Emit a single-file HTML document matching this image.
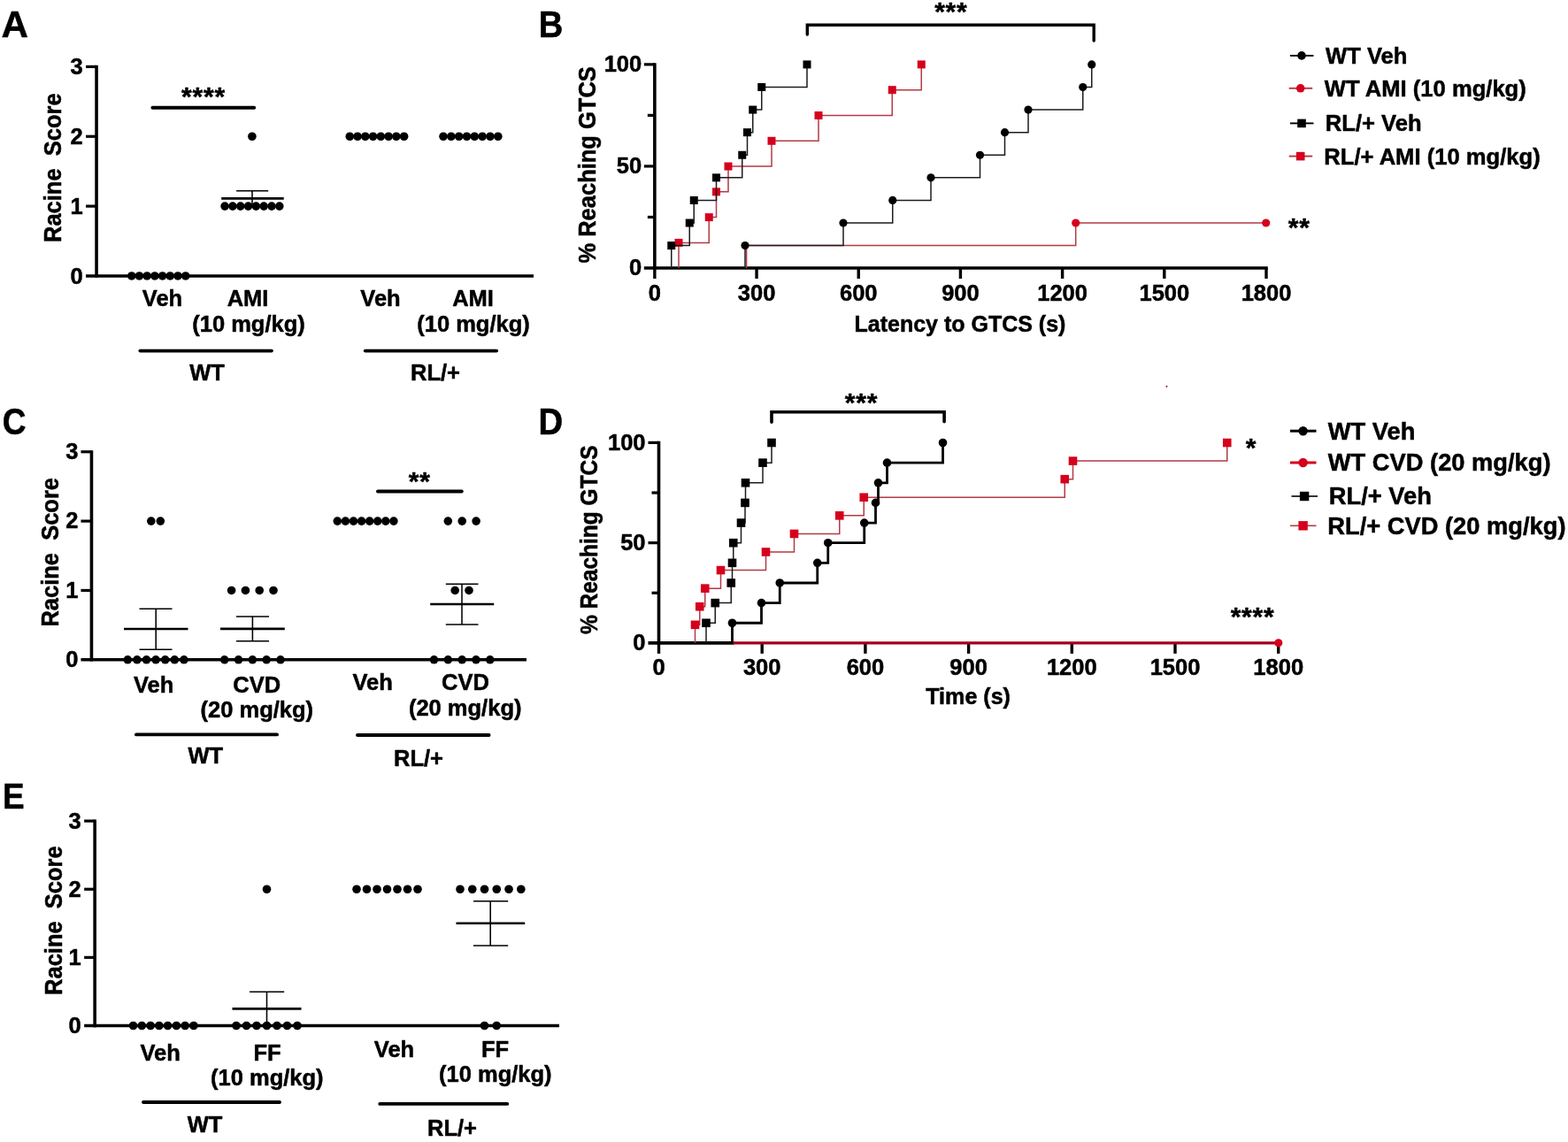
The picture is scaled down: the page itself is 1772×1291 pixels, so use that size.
<!DOCTYPE html>
<html lang="en">
<head>
<meta charset="utf-8">
<title>Figure: Racine score and latency to GTCS</title>
<style>
html,body{margin:0;padding:0;background:#fff;}
body{width:1772px;height:1291px;overflow:hidden;}
svg{display:block;}
svg text{white-space:pre;font-family:"Liberation Sans",Arial,Helvetica,sans-serif;font-weight:700;fill:#000;stroke:#000;stroke-width:0.5px;stroke-linejoin:round;}
</style>
</head>
<body>
<svg width="1772" height="1291" viewBox="0 0 1772 1291">
<rect x="0" y="0" width="1772" height="1291" fill="#fff"/>
<text transform="translate(1.45 41.8) scale(1.03 1.02)" font-size="41.0" text-anchor="start">A</text>
<text transform="translate(608.75 41.8) scale(0.93 1.02)" font-size="41.0" text-anchor="start">B</text>
<text transform="translate(2.86 490.6) scale(0.905 1.05)" font-size="41.0" text-anchor="start">C</text>
<text transform="translate(608.44 490.6) scale(0.935 1.02)" font-size="41.0" text-anchor="start">D</text>
<text transform="translate(2.93 914.4) scale(0.9 1)" font-size="41.0" text-anchor="start">E</text>
<line x1="109.05" y1="73.80000000000001" x2="109.05" y2="313.75" stroke="#000" stroke-width="3.6" stroke-linecap="butt"/>
<line x1="97.05" y1="311.95" x2="603" y2="311.95" stroke="#000" stroke-width="3.6" stroke-linecap="butt"/>
<text transform="translate(93.8 320.95)" font-size="25.5" text-anchor="end" xml:space="preserve">0</text>
<line x1="97.05" y1="233.1" x2="109.05" y2="233.1" stroke="#000" stroke-width="3.2" stroke-linecap="butt"/>
<text transform="translate(93.8 242.1)" font-size="25.5" text-anchor="end" xml:space="preserve">1</text>
<line x1="97.05" y1="154.25" x2="109.05" y2="154.25" stroke="#000" stroke-width="3.2" stroke-linecap="butt"/>
<text transform="translate(93.8 163.25)" font-size="25.5" text-anchor="end" xml:space="preserve">2</text>
<line x1="97.05" y1="75.4" x2="109.05" y2="75.4" stroke="#000" stroke-width="3.2" stroke-linecap="butt"/>
<text transform="translate(93.8 84.4)" font-size="25.5" text-anchor="end" xml:space="preserve">3</text>
<text transform="translate(68.5 189.675) rotate(-90) scale(1 1.07)" font-size="25.5" text-anchor="middle" xml:space="preserve">Racine  Score</text>
<circle cx="148.75" cy="311.95" r="4.8" fill="#000"/>
<circle cx="157.46" cy="311.95" r="4.8" fill="#000"/>
<circle cx="166.16" cy="311.95" r="4.8" fill="#000"/>
<circle cx="174.87" cy="311.95" r="4.8" fill="#000"/>
<circle cx="183.58" cy="311.95" r="4.8" fill="#000"/>
<circle cx="192.29" cy="311.95" r="4.8" fill="#000"/>
<circle cx="200.99" cy="311.95" r="4.8" fill="#000"/>
<circle cx="209.70" cy="311.95" r="4.8" fill="#000"/>
<circle cx="254.10" cy="233.10" r="4.8" fill="#000"/>
<circle cx="262.91" cy="233.10" r="4.8" fill="#000"/>
<circle cx="271.73" cy="233.10" r="4.8" fill="#000"/>
<circle cx="280.54" cy="233.10" r="4.8" fill="#000"/>
<circle cx="289.36" cy="233.10" r="4.8" fill="#000"/>
<circle cx="298.17" cy="233.10" r="4.8" fill="#000"/>
<circle cx="306.99" cy="233.10" r="4.8" fill="#000"/>
<circle cx="315.80" cy="233.10" r="4.8" fill="#000"/>
<circle cx="284.90" cy="154.25" r="4.8" fill="#000"/>
<line x1="250.2" y1="224.35" x2="320.7" y2="224.35" stroke="#000" stroke-width="2.6" stroke-linecap="butt"/>
<line x1="285" y1="215.65" x2="285" y2="233.05" stroke="#000" stroke-width="1.55" stroke-linecap="butt"/>
<line x1="267.1" y1="215.65" x2="303.2" y2="215.65" stroke="#000" stroke-width="1.55" stroke-linecap="butt"/>
<circle cx="395.30" cy="154.25" r="4.8" fill="#000"/>
<circle cx="404.06" cy="154.25" r="4.8" fill="#000"/>
<circle cx="412.81" cy="154.25" r="4.8" fill="#000"/>
<circle cx="421.57" cy="154.25" r="4.8" fill="#000"/>
<circle cx="430.33" cy="154.25" r="4.8" fill="#000"/>
<circle cx="439.09" cy="154.25" r="4.8" fill="#000"/>
<circle cx="447.84" cy="154.25" r="4.8" fill="#000"/>
<circle cx="456.60" cy="154.25" r="4.8" fill="#000"/>
<circle cx="501.00" cy="154.25" r="4.8" fill="#000"/>
<circle cx="509.83" cy="154.25" r="4.8" fill="#000"/>
<circle cx="518.66" cy="154.25" r="4.8" fill="#000"/>
<circle cx="527.49" cy="154.25" r="4.8" fill="#000"/>
<circle cx="536.31" cy="154.25" r="4.8" fill="#000"/>
<circle cx="545.14" cy="154.25" r="4.8" fill="#000"/>
<circle cx="553.97" cy="154.25" r="4.8" fill="#000"/>
<circle cx="562.80" cy="154.25" r="4.8" fill="#000"/>
<line x1="172.4" y1="121.8" x2="287.2" y2="121.8" stroke="#000" stroke-width="3.9" stroke-linecap="round"/>
<text transform="translate(229.94 118.95)" font-size="30.0" text-anchor="middle" xml:space="preserve" letter-spacing="0.78" stroke="none">****</text>
<text transform="translate(183.5 346.3)" font-size="25.5" text-anchor="middle" xml:space="preserve">Veh</text>
<text transform="translate(280 346.3)" font-size="25.5" text-anchor="middle" xml:space="preserve">AMI</text>
<text transform="translate(281 375.4)" font-size="25.5" text-anchor="middle" xml:space="preserve">(10 mg/kg)</text>
<text transform="translate(430 346.3)" font-size="25.5" text-anchor="middle" xml:space="preserve">Veh</text>
<text transform="translate(534.5 346.3)" font-size="25.5" text-anchor="middle" xml:space="preserve">AMI</text>
<text transform="translate(535 375.4)" font-size="25.5" text-anchor="middle" xml:space="preserve">(10 mg/kg)</text>
<line x1="158.4" y1="396.6" x2="306.9" y2="396.6" stroke="#000" stroke-width="3.9" stroke-linecap="round"/>
<line x1="412.8" y1="396.6" x2="561.1" y2="396.6" stroke="#000" stroke-width="3.9" stroke-linecap="round"/>
<text transform="translate(234 430.1)" font-size="25.5" text-anchor="middle" xml:space="preserve">WT</text>
<text transform="translate(492 430.3)" font-size="25.5" text-anchor="middle" xml:space="preserve">RL/+</text>
<line x1="103.45" y1="509.15" x2="103.45" y2="747.5999999999999" stroke="#000" stroke-width="3.6" stroke-linecap="butt"/>
<line x1="91.45" y1="745.8" x2="595" y2="745.8" stroke="#000" stroke-width="3.6" stroke-linecap="butt"/>
<text transform="translate(88.4 753.9)" font-size="25.5" text-anchor="end" xml:space="preserve">0</text>
<line x1="91.45" y1="667.4499999999999" x2="103.45" y2="667.4499999999999" stroke="#000" stroke-width="3.2" stroke-linecap="butt"/>
<text transform="translate(88.4 675.55)" font-size="25.5" text-anchor="end" xml:space="preserve">1</text>
<line x1="91.45" y1="589.1" x2="103.45" y2="589.1" stroke="#000" stroke-width="3.2" stroke-linecap="butt"/>
<text transform="translate(88.4 597.2)" font-size="25.5" text-anchor="end" xml:space="preserve">2</text>
<line x1="91.45" y1="510.75" x2="103.45" y2="510.75" stroke="#000" stroke-width="3.2" stroke-linecap="butt"/>
<text transform="translate(88.4 518.85)" font-size="25.5" text-anchor="end" xml:space="preserve">3</text>
<text transform="translate(66.2 624.275) rotate(-90) scale(1 1.07)" font-size="25.5" text-anchor="middle" xml:space="preserve">Racine  Score</text>
<circle cx="144.30" cy="745.80" r="4.8" fill="#000"/>
<circle cx="154.90" cy="745.80" r="4.8" fill="#000"/>
<circle cx="165.50" cy="745.80" r="4.8" fill="#000"/>
<circle cx="176.10" cy="745.80" r="4.8" fill="#000"/>
<circle cx="186.70" cy="745.80" r="4.8" fill="#000"/>
<circle cx="197.30" cy="745.80" r="4.8" fill="#000"/>
<circle cx="207.90" cy="745.80" r="4.8" fill="#000"/>
<circle cx="170.80" cy="589.10" r="4.8" fill="#000"/>
<circle cx="181.30" cy="589.10" r="4.8" fill="#000"/>
<line x1="140" y1="711.0" x2="212.5" y2="711.0" stroke="#000" stroke-width="2.6" stroke-linecap="butt"/>
<line x1="176.2" y1="688.2" x2="176.2" y2="734.2" stroke="#000" stroke-width="1.55" stroke-linecap="butt"/>
<line x1="157.5" y1="688.2" x2="194.5" y2="688.2" stroke="#000" stroke-width="1.55" stroke-linecap="butt"/>
<line x1="157.5" y1="734.2" x2="194.5" y2="734.2" stroke="#000" stroke-width="1.55" stroke-linecap="butt"/>
<circle cx="253.70" cy="745.80" r="4.8" fill="#000"/>
<circle cx="269.52" cy="745.80" r="4.8" fill="#000"/>
<circle cx="285.35" cy="745.80" r="4.8" fill="#000"/>
<circle cx="301.18" cy="745.80" r="4.8" fill="#000"/>
<circle cx="317.00" cy="745.80" r="4.8" fill="#000"/>
<circle cx="261.60" cy="667.45" r="4.8" fill="#000"/>
<circle cx="277.40" cy="667.45" r="4.8" fill="#000"/>
<circle cx="293.20" cy="667.45" r="4.8" fill="#000"/>
<circle cx="309.00" cy="667.45" r="4.8" fill="#000"/>
<line x1="249" y1="710.9" x2="321.8" y2="710.9" stroke="#000" stroke-width="2.6" stroke-linecap="butt"/>
<line x1="285.4" y1="696.9" x2="285.4" y2="724.8" stroke="#000" stroke-width="1.55" stroke-linecap="butt"/>
<line x1="267" y1="696.9" x2="304" y2="696.9" stroke="#000" stroke-width="1.55" stroke-linecap="butt"/>
<line x1="267" y1="724.8" x2="304" y2="724.8" stroke="#000" stroke-width="1.55" stroke-linecap="butt"/>
<circle cx="381.30" cy="589.10" r="4.8" fill="#000"/>
<circle cx="390.39" cy="589.10" r="4.8" fill="#000"/>
<circle cx="399.47" cy="589.10" r="4.8" fill="#000"/>
<circle cx="408.56" cy="589.10" r="4.8" fill="#000"/>
<circle cx="417.64" cy="589.10" r="4.8" fill="#000"/>
<circle cx="426.73" cy="589.10" r="4.8" fill="#000"/>
<circle cx="435.81" cy="589.10" r="4.8" fill="#000"/>
<circle cx="444.90" cy="589.10" r="4.8" fill="#000"/>
<circle cx="490.50" cy="745.80" r="4.8" fill="#000"/>
<circle cx="506.32" cy="745.80" r="4.8" fill="#000"/>
<circle cx="522.15" cy="745.80" r="4.8" fill="#000"/>
<circle cx="537.97" cy="745.80" r="4.8" fill="#000"/>
<circle cx="553.80" cy="745.80" r="4.8" fill="#000"/>
<circle cx="514.20" cy="667.45" r="4.8" fill="#000"/>
<circle cx="530.00" cy="667.45" r="4.8" fill="#000"/>
<circle cx="506.30" cy="589.10" r="4.8" fill="#000"/>
<circle cx="522.20" cy="589.10" r="4.8" fill="#000"/>
<circle cx="538.10" cy="589.10" r="4.8" fill="#000"/>
<line x1="486.2" y1="683.0" x2="558.2" y2="683.0" stroke="#000" stroke-width="2.6" stroke-linecap="butt"/>
<line x1="522" y1="660.2" x2="522" y2="706.0" stroke="#000" stroke-width="1.55" stroke-linecap="butt"/>
<line x1="503.8" y1="660.2" x2="540.5" y2="660.2" stroke="#000" stroke-width="1.55" stroke-linecap="butt"/>
<line x1="503.8" y1="706.0" x2="540.5" y2="706.0" stroke="#000" stroke-width="1.55" stroke-linecap="butt"/>
<line x1="427" y1="555.5" x2="521.8" y2="555.5" stroke="#000" stroke-width="3.9" stroke-linecap="round"/>
<text transform="translate(474.14 554.4)" font-size="30.0" text-anchor="middle" xml:space="preserve" letter-spacing="0.78" stroke="none">**</text>
<text transform="translate(173.7 782.5)" font-size="25.5" text-anchor="middle" xml:space="preserve">Veh</text>
<text transform="translate(290.2 782.5)" font-size="25.5" text-anchor="middle" xml:space="preserve">CVD</text>
<text transform="translate(290.3 810.65)" font-size="25.5" text-anchor="middle" xml:space="preserve">(20 mg/kg)</text>
<text transform="translate(421.2 779.65)" font-size="25.5" text-anchor="middle" xml:space="preserve">Veh</text>
<text transform="translate(526 779.65)" font-size="25.5" text-anchor="middle" xml:space="preserve">CVD</text>
<text transform="translate(525.7 808.85)" font-size="25.5" text-anchor="middle" xml:space="preserve">(20 mg/kg)</text>
<line x1="154" y1="830.4" x2="313" y2="830.4" stroke="#000" stroke-width="3.9" stroke-linecap="round"/>
<line x1="404" y1="831" x2="552.6" y2="831" stroke="#000" stroke-width="3.9" stroke-linecap="round"/>
<text transform="translate(232.3 862.9)" font-size="25.5" text-anchor="middle" xml:space="preserve">WT</text>
<text transform="translate(473 865.9)" font-size="25.5" text-anchor="middle" xml:space="preserve">RL/+</text>
<line x1="107.15" y1="926.5" x2="107.15" y2="1161.3" stroke="#000" stroke-width="3.6" stroke-linecap="butt"/>
<line x1="95.15" y1="1159.5" x2="632" y2="1159.5" stroke="#000" stroke-width="3.6" stroke-linecap="butt"/>
<text transform="translate(91.8 1168.2)" font-size="25.5" text-anchor="end" xml:space="preserve">0</text>
<line x1="95.15" y1="1082.3666666666668" x2="107.15" y2="1082.3666666666668" stroke="#000" stroke-width="3.2" stroke-linecap="butt"/>
<text transform="translate(91.8 1091.0666666666668)" font-size="25.5" text-anchor="end" xml:space="preserve">1</text>
<line x1="95.15" y1="1005.2333333333333" x2="107.15" y2="1005.2333333333333" stroke="#000" stroke-width="3.2" stroke-linecap="butt"/>
<text transform="translate(91.8 1013.9333333333334)" font-size="25.5" text-anchor="end" xml:space="preserve">2</text>
<line x1="95.15" y1="928.1" x2="107.15" y2="928.1" stroke="#000" stroke-width="3.2" stroke-linecap="butt"/>
<text transform="translate(91.8 936.8000000000001)" font-size="25.5" text-anchor="end" xml:space="preserve">3</text>
<text transform="translate(70.3 1040.6) rotate(-90) scale(1 1.07)" font-size="25.5" text-anchor="middle" xml:space="preserve">Racine  Score</text>
<circle cx="150.55" cy="1159.50" r="4.8" fill="#000"/>
<circle cx="160.31" cy="1159.50" r="4.8" fill="#000"/>
<circle cx="170.08" cy="1159.50" r="4.8" fill="#000"/>
<circle cx="179.84" cy="1159.50" r="4.8" fill="#000"/>
<circle cx="189.61" cy="1159.50" r="4.8" fill="#000"/>
<circle cx="199.37" cy="1159.50" r="4.8" fill="#000"/>
<circle cx="209.14" cy="1159.50" r="4.8" fill="#000"/>
<circle cx="218.90" cy="1159.50" r="4.8" fill="#000"/>
<circle cx="267.00" cy="1159.50" r="4.8" fill="#000"/>
<circle cx="278.50" cy="1159.50" r="4.8" fill="#000"/>
<circle cx="290.00" cy="1159.50" r="4.8" fill="#000"/>
<circle cx="301.50" cy="1159.50" r="4.8" fill="#000"/>
<circle cx="313.00" cy="1159.50" r="4.8" fill="#000"/>
<circle cx="324.50" cy="1159.50" r="4.8" fill="#000"/>
<circle cx="336.00" cy="1159.50" r="4.8" fill="#000"/>
<circle cx="301.50" cy="1005.24" r="4.8" fill="#000"/>
<line x1="262.5" y1="1140.4" x2="340.5" y2="1140.4" stroke="#000" stroke-width="2.6" stroke-linecap="butt"/>
<line x1="301.5" y1="1121.2" x2="301.5" y2="1159" stroke="#000" stroke-width="1.55" stroke-linecap="butt"/>
<line x1="282" y1="1121.2" x2="321.2" y2="1121.2" stroke="#000" stroke-width="1.55" stroke-linecap="butt"/>
<circle cx="403.00" cy="1005.24" r="4.8" fill="#000"/>
<circle cx="414.50" cy="1005.24" r="4.8" fill="#000"/>
<circle cx="426.00" cy="1005.24" r="4.8" fill="#000"/>
<circle cx="437.50" cy="1005.24" r="4.8" fill="#000"/>
<circle cx="449.00" cy="1005.24" r="4.8" fill="#000"/>
<circle cx="460.50" cy="1005.24" r="4.8" fill="#000"/>
<circle cx="472.00" cy="1005.24" r="4.8" fill="#000"/>
<circle cx="520.00" cy="1005.24" r="4.8" fill="#000"/>
<circle cx="533.76" cy="1005.24" r="4.8" fill="#000"/>
<circle cx="547.52" cy="1005.24" r="4.8" fill="#000"/>
<circle cx="561.28" cy="1005.24" r="4.8" fill="#000"/>
<circle cx="575.04" cy="1005.24" r="4.8" fill="#000"/>
<circle cx="588.80" cy="1005.24" r="4.8" fill="#000"/>
<circle cx="547.50" cy="1159.50" r="4.8" fill="#000"/>
<circle cx="561.20" cy="1159.50" r="4.8" fill="#000"/>
<line x1="515.5" y1="1043.8" x2="593.2" y2="1043.8" stroke="#000" stroke-width="2.6" stroke-linecap="butt"/>
<line x1="554.2" y1="1018.8" x2="554.2" y2="1069" stroke="#000" stroke-width="1.55" stroke-linecap="butt"/>
<line x1="535" y1="1018.8" x2="574.2" y2="1018.8" stroke="#000" stroke-width="1.55" stroke-linecap="butt"/>
<line x1="535" y1="1069" x2="574.2" y2="1069" stroke="#000" stroke-width="1.55" stroke-linecap="butt"/>
<text transform="translate(181.2 1199.3)" font-size="25.5" text-anchor="middle" xml:space="preserve">Veh</text>
<text transform="translate(302 1199.3)" font-size="25.5" text-anchor="middle" xml:space="preserve">FF</text>
<text transform="translate(301.8 1227.3)" font-size="25.5" text-anchor="middle" xml:space="preserve">(10 mg/kg)</text>
<text transform="translate(445.5 1194.8)" font-size="25.5" text-anchor="middle" xml:space="preserve">Veh</text>
<text transform="translate(559.5 1194.6)" font-size="25.5" text-anchor="middle" xml:space="preserve">FF</text>
<text transform="translate(559.8 1223.3)" font-size="25.5" text-anchor="middle" xml:space="preserve">(10 mg/kg)</text>
<line x1="162" y1="1246" x2="316" y2="1246" stroke="#000" stroke-width="3.9" stroke-linecap="round"/>
<line x1="429.3" y1="1247.9" x2="573.2" y2="1247.9" stroke="#000" stroke-width="3.9" stroke-linecap="round"/>
<text transform="translate(231.6 1279.5)" font-size="25.5" text-anchor="middle" xml:space="preserve">WT</text>
<text transform="translate(511 1283.6)" font-size="25.5" text-anchor="middle" xml:space="preserve">RL/+</text>
<line x1="739.85" y1="71.25" x2="739.85" y2="304.8" stroke="#000" stroke-width="3.6" stroke-linecap="butt"/>
<line x1="727.85" y1="303.0" x2="1432.8" y2="303.0" stroke="#000" stroke-width="3.6" stroke-linecap="butt"/>
<line x1="731.85" y1="245.4625" x2="739.85" y2="245.4625" stroke="#000" stroke-width="3.2" stroke-linecap="butt"/>
<line x1="727.85" y1="187.925" x2="739.85" y2="187.925" stroke="#000" stroke-width="3.2" stroke-linecap="butt"/>
<line x1="731.85" y1="130.3875" x2="739.85" y2="130.3875" stroke="#000" stroke-width="3.2" stroke-linecap="butt"/>
<line x1="727.85" y1="72.85" x2="739.85" y2="72.85" stroke="#000" stroke-width="3.2" stroke-linecap="butt"/>
<text transform="translate(725.2 310.9)" font-size="25.5" text-anchor="end" xml:space="preserve">0</text>
<text transform="translate(725.2 195.82500000000002)" font-size="25.5" text-anchor="end" xml:space="preserve">50</text>
<text transform="translate(725.2 80.75)" font-size="25.5" text-anchor="end" xml:space="preserve">100</text>
<line x1="739.85" y1="303.0" x2="739.85" y2="315.0" stroke="#000" stroke-width="3.4" stroke-linecap="butt"/>
<text transform="translate(739.85 340.3)" font-size="25.5" text-anchor="middle" xml:space="preserve">0</text>
<line x1="855.0416666666667" y1="303.0" x2="855.0416666666667" y2="315.0" stroke="#000" stroke-width="3.4" stroke-linecap="butt"/>
<text transform="translate(855.0416666666667 340.3)" font-size="25.5" text-anchor="middle" xml:space="preserve">300</text>
<line x1="970.2333333333333" y1="303.0" x2="970.2333333333333" y2="315.0" stroke="#000" stroke-width="3.4" stroke-linecap="butt"/>
<text transform="translate(970.2333333333333 340.3)" font-size="25.5" text-anchor="middle" xml:space="preserve">600</text>
<line x1="1085.425" y1="303.0" x2="1085.425" y2="315.0" stroke="#000" stroke-width="3.4" stroke-linecap="butt"/>
<text transform="translate(1085.425 340.3)" font-size="25.5" text-anchor="middle" xml:space="preserve">900</text>
<line x1="1200.6166666666668" y1="303.0" x2="1200.6166666666668" y2="315.0" stroke="#000" stroke-width="3.4" stroke-linecap="butt"/>
<text transform="translate(1200.6166666666668 340.3)" font-size="25.5" text-anchor="middle" xml:space="preserve">1200</text>
<line x1="1315.8083333333334" y1="303.0" x2="1315.8083333333334" y2="315.0" stroke="#000" stroke-width="3.4" stroke-linecap="butt"/>
<text transform="translate(1315.8083333333334 340.3)" font-size="25.5" text-anchor="middle" xml:space="preserve">1500</text>
<line x1="1431.0" y1="303.0" x2="1431.0" y2="315.0" stroke="#000" stroke-width="3.4" stroke-linecap="butt"/>
<text transform="translate(1431.0 340.3)" font-size="25.5" text-anchor="middle" xml:space="preserve">1800</text>
<text transform="translate(672.5 186.375) rotate(-90) scale(1 1.07)" font-size="25.5" text-anchor="middle" xml:space="preserve">% Reaching GTCS</text>
<text transform="translate(1084.925 375.2)" font-size="25.0" text-anchor="middle" xml:space="preserve">Latency to GTCS (s)</text>
<path d="M767.00,303.00 L767.00,303.00 L767.00,274.41 L801.25,274.41 L801.25,245.62 L809.50,245.62 L809.50,216.83 L823.00,216.83 L823.00,188.04 L872.00,188.04 L872.00,159.25 L925.00,159.25 L925.00,130.46 L1008.25,130.46 L1008.25,101.67 L1041.25,101.67 L1041.25,72.88" fill="none" stroke="#b23a45" stroke-width="1.5" stroke-linejoin="miter" stroke-linecap="butt"/>
<rect x="762.50" y="269.91" width="9.0" height="9.0" fill="#d6001c"/>
<rect x="796.75" y="241.12" width="9.0" height="9.0" fill="#d6001c"/>
<rect x="805.00" y="212.33" width="9.0" height="9.0" fill="#d6001c"/>
<rect x="818.50" y="183.54" width="9.0" height="9.0" fill="#d6001c"/>
<rect x="867.50" y="154.75" width="9.0" height="9.0" fill="#d6001c"/>
<rect x="920.50" y="125.96" width="9.0" height="9.0" fill="#d6001c"/>
<rect x="1003.75" y="97.17" width="9.0" height="9.0" fill="#d6001c"/>
<rect x="1036.75" y="68.38" width="9.0" height="9.0" fill="#d6001c"/>
<path d="M758.75,303.00 L758.75,303.00 L758.75,277.61 L779.25,277.61 L779.25,252.02 L784.25,252.02 L784.25,226.43 L809.50,226.43 L809.50,200.84 L838.75,200.84 L838.75,175.25 L844.50,175.25 L844.50,149.66 L850.75,149.66 L850.75,124.07 L860.75,124.07 L860.75,98.48 L912.00,98.48 L912.00,72.89" fill="none" stroke="#1c1c1c" stroke-width="1.5" stroke-linejoin="miter" stroke-linecap="butt"/>
<rect x="754.25" y="273.11" width="9.0" height="9.0" fill="#000"/>
<rect x="774.75" y="247.52" width="9.0" height="9.0" fill="#000"/>
<rect x="779.75" y="221.93" width="9.0" height="9.0" fill="#000"/>
<rect x="805.00" y="196.34" width="9.0" height="9.0" fill="#000"/>
<rect x="834.25" y="170.75" width="9.0" height="9.0" fill="#000"/>
<rect x="840.00" y="145.16" width="9.0" height="9.0" fill="#000"/>
<rect x="846.25" y="119.57" width="9.0" height="9.0" fill="#000"/>
<rect x="856.25" y="93.98" width="9.0" height="9.0" fill="#000"/>
<rect x="907.50" y="68.39" width="9.0" height="9.0" fill="#000"/>
<path d="M843.60,303.00 L843.60,277.61 L1215.70,277.61 L1215.70,252.02 L1430.50,252.02" fill="none" stroke="#b23a45" stroke-width="1.5" stroke-linejoin="miter" stroke-linecap="butt"/>
<circle cx="1215.70" cy="252.02" r="4.6" fill="#d6001c"/>
<circle cx="1430.70" cy="252.02" r="4.6" fill="#d6001c"/>
<path d="M842.00,303.00 L842.00,303.00 L842.00,277.61 L953.00,277.61 L953.00,252.02 L1008.75,252.02 L1008.75,226.43 L1052.00,226.43 L1052.00,200.84 L1107.50,200.84 L1107.50,175.25 L1135.50,175.25 L1135.50,149.66 L1162.00,149.66 L1162.00,124.07 L1223.75,124.07 L1223.75,98.48 L1233.75,98.48 L1233.75,72.89" fill="none" stroke="#1c1c1c" stroke-width="1.5" stroke-linejoin="miter" stroke-linecap="butt"/>
<circle cx="842.00" cy="277.61" r="4.6" fill="#000"/>
<circle cx="953.00" cy="252.02" r="4.6" fill="#000"/>
<circle cx="1008.75" cy="226.43" r="4.6" fill="#000"/>
<circle cx="1052.00" cy="200.84" r="4.6" fill="#000"/>
<circle cx="1107.50" cy="175.25" r="4.6" fill="#000"/>
<circle cx="1135.50" cy="149.66" r="4.6" fill="#000"/>
<circle cx="1162.00" cy="124.07" r="4.6" fill="#000"/>
<circle cx="1223.75" cy="98.48" r="4.6" fill="#000"/>
<circle cx="1233.75" cy="72.89" r="4.6" fill="#000"/>
<path d="M912.30,39.00 L912.30,28.30 L1236.20,28.30 L1236.20,46.00" fill="none" stroke="#000" stroke-width="3.4" stroke-linejoin="miter" stroke-linecap="round"/>
<text transform="translate(1074.8400000000001 23.3)" font-size="30.0" text-anchor="middle" xml:space="preserve" letter-spacing="0.78" stroke="none">***</text>
<text transform="translate(1468.2900000000002 267.05)" font-size="30.0" text-anchor="middle" xml:space="preserve" letter-spacing="0.78" stroke="none">**</text>
<line x1="1458" y1="62.9" x2="1484.5" y2="62.9" stroke="#000" stroke-width="1.9" stroke-linecap="butt"/>
<circle cx="1471.00" cy="62.90" r="4.8" fill="#000"/>
<text transform="translate(1498 71.5)" font-size="25.6" text-anchor="start" xml:space="preserve">WT Veh</text>
<line x1="1456.7" y1="99.8" x2="1483.2" y2="99.8" stroke="#b23a45" stroke-width="1.9" stroke-linecap="butt"/>
<circle cx="1469.70" cy="99.80" r="4.8" fill="#d6001c"/>
<text transform="translate(1496.8 108.9)" font-size="25.6" text-anchor="start" xml:space="preserve">WT AMI (10 mg/kg)</text>
<line x1="1458" y1="139.4" x2="1484.5" y2="139.4" stroke="#000" stroke-width="1.9" stroke-linecap="butt"/>
<rect x="1466.20" y="134.60" width="9.6" height="9.6" fill="#000"/>
<text transform="translate(1497.8 147.7)" font-size="25.6" text-anchor="start" xml:space="preserve">RL/+ Veh</text>
<line x1="1456.7" y1="176.6" x2="1483.2" y2="176.6" stroke="#b23a45" stroke-width="1.9" stroke-linecap="butt"/>
<rect x="1464.90" y="171.80" width="9.6" height="9.6" fill="#d6001c"/>
<text transform="translate(1496.3 185.5)" font-size="25.6" text-anchor="start" xml:space="preserve">RL/+ AMI (10 mg/kg)</text>
<line x1="744.5" y1="498.79999999999995" x2="744.5" y2="728.6999999999999" stroke="#000" stroke-width="3.6" stroke-linecap="butt"/>
<line x1="732.5" y1="726.9" x2="829.5" y2="726.9" stroke="#000" stroke-width="3.6" stroke-linecap="butt"/>
<line x1="736.5" y1="670.275" x2="744.5" y2="670.275" stroke="#000" stroke-width="3.2" stroke-linecap="butt"/>
<line x1="732.5" y1="613.65" x2="744.5" y2="613.65" stroke="#000" stroke-width="3.2" stroke-linecap="butt"/>
<line x1="736.5" y1="557.025" x2="744.5" y2="557.025" stroke="#000" stroke-width="3.2" stroke-linecap="butt"/>
<line x1="732.5" y1="500.4" x2="744.5" y2="500.4" stroke="#000" stroke-width="3.2" stroke-linecap="butt"/>
<text transform="translate(729.5 735.4)" font-size="25.5" text-anchor="end" xml:space="preserve">0</text>
<text transform="translate(729.5 622.15)" font-size="25.5" text-anchor="end" xml:space="preserve">50</text>
<text transform="translate(729.5 508.9)" font-size="25.5" text-anchor="end" xml:space="preserve">100</text>
<line x1="744.5" y1="726.9" x2="744.5" y2="738.9" stroke="#000" stroke-width="3.4" stroke-linecap="butt"/>
<text transform="translate(744.5 763.3)" font-size="25.5" text-anchor="middle" xml:space="preserve">0</text>
<line x1="861.2" y1="726.9" x2="861.2" y2="738.9" stroke="#000" stroke-width="3.4" stroke-linecap="butt"/>
<text transform="translate(861.2 763.3)" font-size="25.5" text-anchor="middle" xml:space="preserve">300</text>
<line x1="977.9" y1="726.9" x2="977.9" y2="738.9" stroke="#000" stroke-width="3.4" stroke-linecap="butt"/>
<text transform="translate(977.9 763.3)" font-size="25.5" text-anchor="middle" xml:space="preserve">600</text>
<line x1="1094.6000000000001" y1="726.9" x2="1094.6000000000001" y2="738.9" stroke="#000" stroke-width="3.4" stroke-linecap="butt"/>
<text transform="translate(1094.6000000000001 763.3)" font-size="25.5" text-anchor="middle" xml:space="preserve">900</text>
<line x1="1211.3" y1="726.9" x2="1211.3" y2="738.9" stroke="#000" stroke-width="3.4" stroke-linecap="butt"/>
<text transform="translate(1211.3 763.3)" font-size="25.5" text-anchor="middle" xml:space="preserve">1200</text>
<line x1="1328.0" y1="726.9" x2="1328.0" y2="738.9" stroke="#000" stroke-width="3.4" stroke-linecap="butt"/>
<text transform="translate(1328.0 763.3)" font-size="25.5" text-anchor="middle" xml:space="preserve">1500</text>
<line x1="1444.7000000000003" y1="726.9" x2="1444.7000000000003" y2="738.9" stroke="#000" stroke-width="3.4" stroke-linecap="butt"/>
<text transform="translate(1444.7000000000003 763.3)" font-size="25.5" text-anchor="middle" xml:space="preserve">1800</text>
<text transform="translate(675.3 610.1999999999999) rotate(-90) scale(1 1.13)" font-size="24.5" text-anchor="middle" xml:space="preserve">% Reaching GTCS</text>
<text transform="translate(1094.1 796)" font-size="25.1" text-anchor="middle" xml:space="preserve">Time (s)</text>
<path d="M785.50,726.90 L785.50,726.90 L785.50,706.32 L790.75,706.32 L790.75,685.74 L796.75,685.74 L796.75,665.16 L814.50,665.16 L814.50,644.58 L865.50,644.58 L865.50,624.00 L897.50,624.00 L897.50,603.42 L948.75,603.42 L948.75,582.84 L976.25,582.84 L976.25,562.26 L1203.25,562.26 L1203.25,541.68 L1212.50,541.68 L1212.50,521.10 L1386.75,521.10 L1386.75,500.52" fill="none" stroke="#b23a45" stroke-width="1.5" stroke-linejoin="miter" stroke-linecap="butt"/>
<rect x="780.70" y="701.52" width="9.6" height="9.6" fill="#d6001c"/>
<rect x="785.95" y="680.94" width="9.6" height="9.6" fill="#d6001c"/>
<rect x="791.95" y="660.36" width="9.6" height="9.6" fill="#d6001c"/>
<rect x="809.70" y="639.78" width="9.6" height="9.6" fill="#d6001c"/>
<rect x="860.70" y="619.20" width="9.6" height="9.6" fill="#d6001c"/>
<rect x="892.70" y="598.62" width="9.6" height="9.6" fill="#d6001c"/>
<rect x="943.95" y="578.04" width="9.6" height="9.6" fill="#d6001c"/>
<rect x="971.45" y="557.46" width="9.6" height="9.6" fill="#d6001c"/>
<rect x="1198.45" y="536.88" width="9.6" height="9.6" fill="#d6001c"/>
<rect x="1207.70" y="516.30" width="9.6" height="9.6" fill="#d6001c"/>
<rect x="1381.95" y="495.72" width="9.6" height="9.6" fill="#d6001c"/>
<path d="M798.00,726.90 L798.00,726.90 L798.00,704.26 L808.25,704.26 L808.25,681.62 L826.25,681.62 L826.25,658.98 L827.50,658.98 L827.50,636.34 L828.75,636.34 L828.75,613.70 L837.50,613.70 L837.50,591.06 L842.00,591.06 L842.00,568.42 L842.50,568.42 L842.50,545.78 L862.00,545.78 L862.00,523.14 L872.00,523.14 L872.00,500.50" fill="none" stroke="#1c1c1c" stroke-width="1.5" stroke-linejoin="miter" stroke-linecap="butt"/>
<rect x="793.20" y="699.46" width="9.6" height="9.6" fill="#000"/>
<rect x="803.45" y="676.82" width="9.6" height="9.6" fill="#000"/>
<rect x="821.45" y="654.18" width="9.6" height="9.6" fill="#000"/>
<rect x="822.70" y="631.54" width="9.6" height="9.6" fill="#000"/>
<rect x="823.95" y="608.90" width="9.6" height="9.6" fill="#000"/>
<rect x="832.70" y="586.26" width="9.6" height="9.6" fill="#000"/>
<rect x="837.20" y="563.62" width="9.6" height="9.6" fill="#000"/>
<rect x="837.70" y="540.98" width="9.6" height="9.6" fill="#000"/>
<rect x="857.20" y="518.34" width="9.6" height="9.6" fill="#000"/>
<rect x="867.20" y="495.70" width="9.6" height="9.6" fill="#000"/>
<path d="M827.50,726.90 L827.50,726.90 L827.50,704.26 L860.50,704.26 L860.50,681.62 L881.25,681.62 L881.25,658.98 L923.75,658.98 L923.75,636.34 L935.75,636.34 L935.75,613.70 L976.75,613.70 L976.75,591.06 L989.50,591.06 L989.50,568.42 L992.50,568.42 L992.50,545.78 L1002.50,545.78 L1002.50,523.14 L1065.50,523.14 L1065.50,500.50" fill="none" stroke="#000" stroke-width="2.8" stroke-linejoin="miter" stroke-linecap="butt"/>
<circle cx="827.50" cy="704.26" r="4.8" fill="#000"/>
<circle cx="860.50" cy="681.62" r="4.8" fill="#000"/>
<circle cx="881.25" cy="658.98" r="4.8" fill="#000"/>
<circle cx="923.75" cy="636.34" r="4.8" fill="#000"/>
<circle cx="935.75" cy="613.70" r="4.8" fill="#000"/>
<circle cx="976.75" cy="591.06" r="4.8" fill="#000"/>
<circle cx="989.50" cy="568.42" r="4.8" fill="#000"/>
<circle cx="992.50" cy="545.78" r="4.8" fill="#000"/>
<circle cx="1002.50" cy="523.14" r="4.8" fill="#000"/>
<circle cx="1065.50" cy="500.50" r="4.8" fill="#000"/>
<line x1="828.4" y1="726.9" x2="1444.7" y2="726.9" stroke="#a3001b" stroke-width="3.4" stroke-linecap="butt"/>
<circle cx="1444.80" cy="726.80" r="4.6" fill="#d6001c"/>
<path d="M872.00,477.30 L872.00,465.80 L1067.10,465.80 L1067.10,476.80" fill="none" stroke="#000" stroke-width="3.6" stroke-linejoin="miter" stroke-linecap="round"/>
<text transform="translate(973.4399999999999 464.65)" font-size="30.0" text-anchor="middle" xml:space="preserve" letter-spacing="0.78" stroke="none">***</text>
<text transform="translate(1413.89 516.1)" font-size="30.0" text-anchor="middle" xml:space="preserve" letter-spacing="0.78" stroke="none">*</text>
<text transform="translate(1415.5400000000002 706.85)" font-size="30.0" text-anchor="middle" xml:space="preserve" letter-spacing="0.78" stroke="none">****</text>
<line x1="1458" y1="487.2" x2="1487.5" y2="487.2" stroke="#000" stroke-width="3.0" stroke-linecap="butt"/>
<circle cx="1472.60" cy="487.20" r="5.2" fill="#000"/>
<text transform="translate(1500.8 496.5)" font-size="27.3" text-anchor="start" xml:space="preserve">WT Veh</text>
<line x1="1458" y1="523" x2="1487.5" y2="523" stroke="#d6001c" stroke-width="3.0" stroke-linecap="butt"/>
<circle cx="1472.60" cy="523.00" r="5.2" fill="#d6001c"/>
<text transform="translate(1500.8 532.3)" font-size="27.3" text-anchor="start" xml:space="preserve">WT CVD (20 mg/kg)</text>
<line x1="1459.5" y1="561" x2="1489" y2="561" stroke="#000" stroke-width="1.6" stroke-linecap="butt"/>
<rect x="1468.90" y="555.80" width="10.4" height="10.4" fill="#000"/>
<text transform="translate(1501.8 570)" font-size="27.3" text-anchor="start" xml:space="preserve">RL/+ Veh</text>
<line x1="1458" y1="594.3" x2="1487.5" y2="594.3" stroke="#b23a45" stroke-width="1.6" stroke-linecap="butt"/>
<rect x="1467.40" y="589.10" width="10.4" height="10.4" fill="#d6001c"/>
<text transform="translate(1500.3 604)" font-size="27.3" text-anchor="start" xml:space="preserve">RL/+ CVD (20 mg/kg)</text>
<rect x="1317.5" y="435.8" width="1.9" height="2.2" rx="0.7" fill="#8f3a40"/>
</svg>
</body>
</html>
